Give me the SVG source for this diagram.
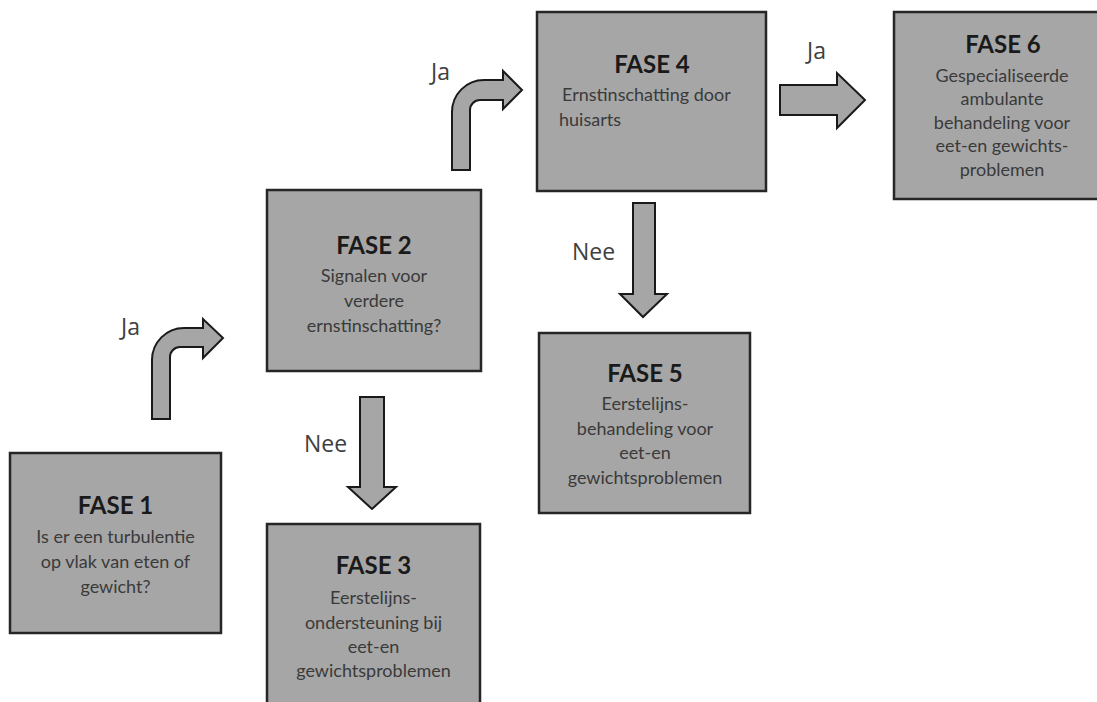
<svg xmlns="http://www.w3.org/2000/svg" width="1097" height="702" viewBox="0 0 1097 702">
<style>
.box{fill:#a6a6a6;stroke:#262626;stroke-width:2.5}
.arr{fill:#a6a6a6;stroke:#1a1a1a;stroke-width:2;stroke-linejoin:miter}
.t{font-family:Lato,"Liberation Sans",sans-serif;font-weight:bold;font-size:24px;fill:#1a1a1a;text-anchor:middle}
.b{font-family:Lato,"Liberation Sans",sans-serif;font-size:18px;fill:#3a3a3a;text-anchor:middle}
.bl{font-family:Lato,"Liberation Sans",sans-serif;font-size:18px;fill:#3a3a3a}
.lab{font-family:"Open Sans","Liberation Sans",sans-serif;font-size:23px;fill:#404040}
</style>
<rect width="1097" height="702" fill="#ffffff"/>
<g id="connectors">
<path class="arr" d="M152,419 L152,360 A32,32 0 0 1 184,328 L203,328 L203,319 L223,338 L203,358 L203,347 L180,347 A10,10 0 0 0 170,357 L170,419 Z"/>
<text class="lab" x="121" y="335">Ja</text>
<path class="arr" d="M452,170 L452,112 A32,32 0 0 1 484,80 L503,80 L503,71 L522,90 L503,109 L503,100 L480,100 A10,10 0 0 0 470,110 L470,170 Z"/>
<text class="lab" x="431" y="80">Ja</text>
<path class="arr" d="M780,85 L837,85 L837,73 L865,100 L837,128 L837,115 L780,115 Z"/>
<text class="lab" x="807" y="59">Ja</text>
<path class="arr" d="M360,397 L384,397 L384,487 L396,487 L372,509 L348,487 L360,487 Z"/>
<text class="lab" x="304" y="452">Nee</text>
<path class="arr" d="M633,203 L655,203 L655,294 L667,294 L643,317 L620,294 L633,294 Z"/>
<text class="lab" x="572" y="260">Nee</text>
</g>
<g id="fase1">
<rect class="box" x="10" y="453" width="211" height="180"/>
<text class="t" x="115.5" y="514">FASE 1</text>
<text class="b" x="115.5" y="543">Is er een turbulentie</text>
<text class="b" x="115.5" y="568">op vlak van eten of</text>
<text class="b" x="115.5" y="593">gewicht?</text>
</g>
<g id="fase2">
<rect class="box" x="267" y="190" width="214" height="181"/>
<text class="t" x="374" y="254">FASE 2</text>
<text class="b" x="374" y="282">Signalen voor</text>
<text class="b" x="374" y="307">verdere</text>
<text class="b" x="374" y="332">ernstinschatting?</text>
</g>
<g id="fase3">
<rect class="box" x="267" y="524" width="213" height="190"/>
<text class="t" x="373.5" y="574">FASE 3</text>
<text class="b" x="373.5" y="604">Eerstelijns-</text>
<text class="b" x="373.5" y="629">ondersteuning bij</text>
<text class="b" x="373.5" y="653">eet-en</text>
<text class="b" x="373.5" y="677">gewichtsproblemen</text>
</g>
<g id="fase4">
<rect class="box" x="537" y="12" width="229" height="179"/>
<text class="t" x="652" y="73">FASE 4</text>
<text class="bl" x="562" y="101">Ernstinschatting door</text>
<text class="bl" x="559" y="126">huisarts</text>
</g>
<g id="fase5">
<rect class="box" x="539" y="333" width="211" height="180"/>
<text class="t" x="645" y="382">FASE 5</text>
<text class="b" x="645" y="410">Eerstelijns-</text>
<text class="b" x="645" y="435">behandeling voor</text>
<text class="b" x="645" y="459">eet-en</text>
<text class="b" x="645" y="484">gewichtsproblemen</text>
</g>
<g id="fase6">
<rect class="box" x="894" y="12" width="220" height="187"/>
<text class="t" x="1003" y="53">FASE 6</text>
<text class="b" x="1002" y="82">Gespecialiseerde</text>
<text class="b" x="1002" y="105">ambulante</text>
<text class="b" x="1002" y="129">behandeling voor</text>
<text class="b" x="1002" y="152">eet-en gewichts-</text>
<text class="b" x="1002" y="176">problemen</text>
</g>
</svg>
